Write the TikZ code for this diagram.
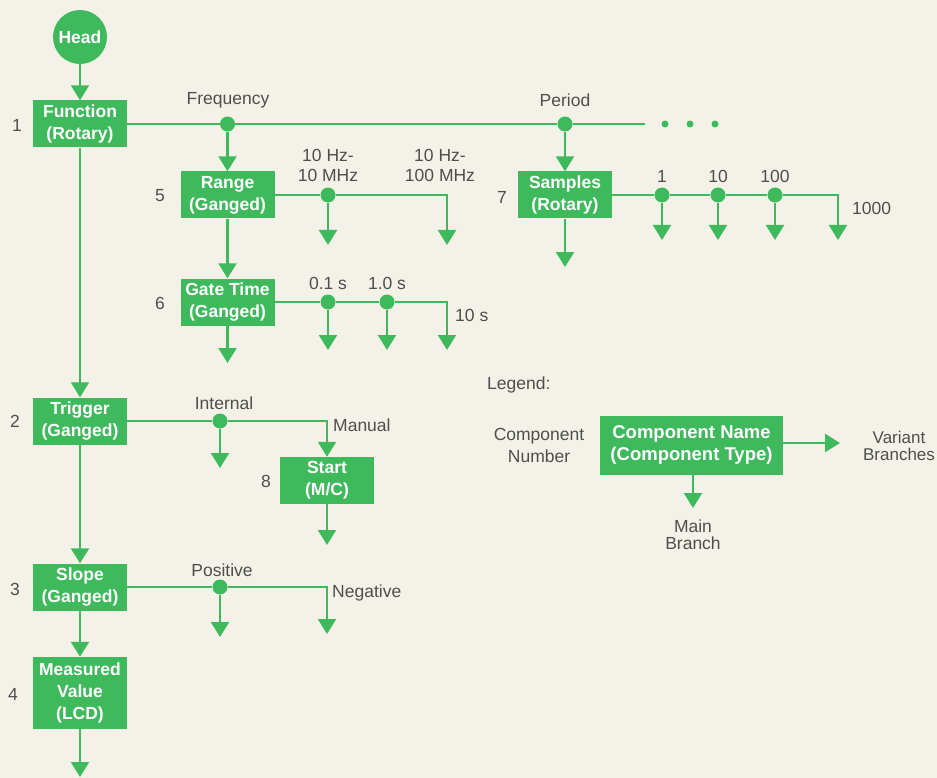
\documentclass[tikz,border=0pt]{standalone}
\usepackage{fontspec}
\setmainfont{Liberation Sans}
\usetikzlibrary{arrows.meta}
\definecolor{hpgreen}{RGB}{62,186,92}
\definecolor{paper}{RGB}{244,242,232}
\definecolor{ink}{RGB}{78,78,76}
\begin{document}
\begin{tikzpicture}[x=1pt,y=-1pt,
  comp/.style={fill=hpgreen, text=white, font=\bfseries\fontsize{17.5}{22}\selectfont,
    align=center, inner sep=0pt, minimum width=94pt, minimum height=47pt},
  junc/.style={circle, fill=hpgreen, minimum size=15pt, inner sep=0pt},
  dot/.style={circle, fill=hpgreen, minimum size=7pt, inner sep=0pt},
  lbl/.style={text=ink, font=\fontsize{17.5}{20}\selectfont, align=center, inner sep=0pt},
  wire/.style={draw=hpgreen, line width=2.2pt},
  flow/.style={wire, -{Triangle[width=18pt,length=15pt]}},
]
\fill[paper] (0,0) rectangle (937,778);
\useasboundingbox (0,0) rectangle (937,778);

% ---- main column ----
\node[circle, fill=hpgreen, minimum size=54pt, inner sep=0pt, text=white,
      font=\bfseries\fontsize{17.5}{20}\selectfont] (head) at (80,37) {Head};
\node[comp] (fn)    at (80,124) {Function\\(Rotary)};
\node[comp] (trig)  at (80,421) {Trigger\\(Ganged)};
\node[comp] (slope) at (80,587) {Slope\\(Ganged)};
\node[comp, minimum height=72pt] (meas) at (80,693) {Measured\\Value\\(LCD)};
\node[lbl] (n1) at (17,125) {1};
\node[lbl] (n2) at (15,421) {2};
\node[lbl] (n3) at (15,589) {3};
\node[lbl] (n4) at (13,694) {4};
\coordinate (measend) at (80,777);

\draw[flow] (head) -- (fn);
\draw[flow] (fn) -- (trig);
\draw[flow] (trig) -- (slope);
\draw[flow] (slope) -- (meas);
\draw[flow] (meas) -- (measend);

% ---- function variants ----
\node[junc] (jfreq) at (227.5,124) {};
\node[junc] (jper)  at (565,124) {};
\coordinate (fnend) at (645,124);
\node[dot] (d1) at (665,124) {};
\node[dot] (d2) at (690,124) {};
\node[dot] (d3) at (715,124) {};
\node[lbl] (lfreq) at (228,100) {Frequency};
\node[lbl] (lper)  at (565,100) {Period};
\draw[wire] (fn.east) -- (jfreq) -- (jper) -- (fnend);

% ---- range ----
\node[comp] (rng) at (227.5,195) {Range\\(Ganged)};
\node[lbl] (n5) at (160,196) {5};
\draw[flow] (jfreq) -- (rng);
\node[junc] (jr1) at (328,195) {};
\coordinate (r1end) at (328,245);
\coordinate (r2end) at (447,245);
\node[lbl] (lr1) at (328,165) {10 Hz-\\10 MHz};
\node[lbl] (lr2) at (440,165) {10 Hz-\\100 MHz};
\draw[wire] (rng.east) -- (jr1);
\draw[flow] (jr1) -- (r1end);
\draw[flow] (jr1) -| (r2end);

% ---- gate time ----
\node[comp] (gate) at (227.5,302) {Gate Time\\(Ganged)};
\node[lbl] (n6) at (160,303) {6};
\draw[flow] (rng) -- (gate);
\coordinate (gateend) at (227.5,363);
\draw[flow] (gate) -- (gateend);
\node[junc] (jg1) at (328,302) {};
\node[junc] (jg2) at (387,302) {};
\coordinate (g1end) at (328,350);
\coordinate (g2end) at (387,350);
\coordinate (g3end) at (447,350);
\node[lbl] (lg1) at (328,283) {0.1 s};
\node[lbl] (lg2) at (387,283) {1.0 s};
\node[lbl, anchor=west] (lg3) at (455,315) {10 s};
\draw[wire] (gate.east) -- (jg1) -- (jg2);
\draw[flow] (jg1) -- (g1end);
\draw[flow] (jg2) -- (g2end);
\draw[flow] (jg2) -| (g3end);

% ---- samples ----
\node[comp] (smp) at (565,195) {Samples\\(Rotary)};
\node[lbl] (n7) at (502,197) {7};
\draw[flow] (jper) -- (smp);
\coordinate (smpend) at (565,267);
\draw[flow] (smp) -- (smpend);
\node[junc] (js1) at (662,195) {};
\node[junc] (js2) at (718,195) {};
\node[junc] (js3) at (775,195) {};
\coordinate (s1end) at (662,240);
\coordinate (s2end) at (718,240);
\coordinate (s3end) at (775,240);
\coordinate (s4end) at (838,240);
\node[lbl] (ls1) at (662,176) {1};
\node[lbl] (ls2) at (718,176) {10};
\node[lbl] (ls3) at (775,176) {100};
\node[lbl, anchor=west] (ls4) at (852,208) {1000};
\draw[wire] (smp.east) -- (js1) -- (js2) -- (js3);
\draw[flow] (js1) -- (s1end);
\draw[flow] (js2) -- (s2end);
\draw[flow] (js3) -- (s3end);
\draw[flow] (js3) -| (s4end);

% ---- trigger variants ----
\node[junc] (jint) at (220,421) {};
\node[lbl] (lint) at (224,403) {Internal};
\node[lbl, anchor=west] (lman) at (333,425) {Manual};
\coordinate (intend) at (220,468);
\node[comp] (start) at (327,480.5) {Start\\(M/C)};
\node[lbl] (n8) at (266,481) {8};
\coordinate (startend) at (327,545);
\draw[wire] (trig.east) -- (jint);
\draw[flow] (jint) -- (intend);
\draw[flow] (jint) -| (start.north);
\draw[flow] (start) -- (startend);

% ---- slope variants ----
\node[junc] (jpos) at (220,587) {};
\node[lbl] (lpos) at (222,570) {Positive};
\node[lbl, anchor=west] (lneg) at (332,593) {Negative};
\coordinate (posend) at (220,637);
\coordinate (negend) at (327,634);
\draw[wire] (slope.east) -- (jpos);
\draw[flow] (jpos) -- (posend);
\draw[flow] (jpos) -| (negend);

% ---- legend ----
\node[lbl, anchor=west] (lleg) at (487,385) {Legend:};
\node[comp, minimum width=183pt, minimum height=59pt,
      font=\bfseries\fontsize{18.5}{22}\selectfont] (leg) at (691.5,445) {Component Name\\(Component Type)};
\node[lbl, font=\fontsize{17.5}{22}\selectfont] (lnum) at (539,445) {Component\\Number};
\node[lbl, font=\fontsize{17}{17}\selectfont] (lvar) at (899,446) {Variant\\Branches};
\node[lbl, font=\fontsize{17.5}{17}\selectfont] (lmain) at (693,535) {Main\\Branch};
\coordinate (legvar) at (840,443);
\coordinate (legmain) at (693,508);
\draw[flow] (leg.east |- legvar) -- (legvar);
\draw[flow] (leg.south -| legmain) -- (legmain);
\end{tikzpicture}
\end{document}
